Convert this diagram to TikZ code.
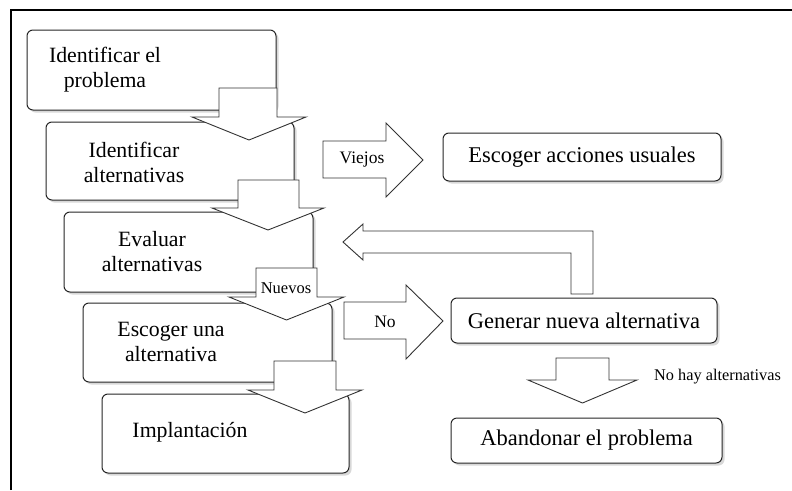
\documentclass[tikz,border=0pt]{standalone}
\usepackage{fontspec}
\setmainfont{Liberation Serif}
\newfontfamily\tnr{Liberation Serif}
\usetikzlibrary{shadows}
\begin{document}
\begin{tikzpicture}[x=1pt,y=-1pt,
  box/.style={draw=black!85, line width=1pt, rounded corners=6pt, fill=white,
    drop shadow={shadow xshift=2.5pt, shadow yshift=-2.5pt, fill=black!30},
    inner sep=0pt, align=center, font=\tnr\fontsize{22.5}{25}\selectfont},
  txt/.style={align=center, font=\tnr\fontsize{21.8}{25}\selectfont, inner sep=0pt},
  blk/.style={draw=black!80, line width=0.9pt, fill=white, line join=miter},
  small/.style={font=\tnr\fontsize{17.5}{19}\selectfont, inner sep=0pt},
  tiny/.style={font=\tnr\fontsize{16.3}{18}\selectfont, inner sep=0pt}]
\useasboundingbox (0,0) rectangle (792,490);
% frame
\draw[line width=1.6pt] (11,490) -- (11,10) -- (792,10);

% left column boxes
\node[box, minimum width=249pt, minimum height=80pt] (b1) at (151.5,70) {};
\node[txt] (t1) at (105,70) {Identificar el\\problema};
\node[box, minimum width=248pt, minimum height=78pt] (b2) at (170,161) {};
\node[txt] (t2) at (134,162) {Identificar\\alternativas};
\node[box, minimum width=249pt, minimum height=80pt] (b3) at (188.5,252) {};
\node[txt] (t3) at (152,251.5) {Evaluar\\alternativas};
\node[box, minimum width=249pt, minimum height=79pt] (b4) at (207.5,342.5) {};
\node[txt] (t4) at (171,341.5) {Escoger una\\alternativa};
\node[box, minimum width=247pt, minimum height=79pt] (b5) at (225.5,433.5) {};
\node[txt] (t5) at (190,432) {Implantación};

% right column boxes
\node[box, minimum width=278pt, minimum height=48pt] (b6) at (582,157) {Escoger acciones usuales};
\node[box, minimum width=266pt, minimum height=45pt] (b7) at (584,320.5) {Generar nueva alternativa};
\node[box, minimum width=271pt, minimum height=45pt] (b8) at (586.5,440.5) {Abandonar el problema};

% down block arrows (left column)
\draw[blk] (219,88) -- (277,88) -- (277,117) -- (306,117) -- (249,140) -- (192,117) -- (219,117) -- cycle;
\draw[blk] (238,180) -- (299,180) -- (299,208) -- (324,208) -- (268,230) -- (212,208) -- (238,208) -- cycle;
\draw[blk] (256,268) -- (317,268) -- (317,297) -- (344,297) -- (286.5,320) -- (229,297) -- (256,297) -- cycle;
\node[small, font=\tnr\fontsize{16.5}{19}\selectfont] (nuevos) at (286,288) {Nuevos};
\draw[blk] (274,361) -- (336,361) -- (336,390) -- (362,390) -- (305,413) -- (248,390) -- (274,390) -- cycle;

% right block arrows
\draw[blk] (323,141) -- (386,141) -- (386,123) -- (423,160) -- (386,197) -- (386,178) -- (323,178) -- cycle;
\node[small] (viejos) at (362,160) {Viejos};
\draw[blk] (344,302) -- (406,302) -- (406,285) -- (443,321) -- (406,359) -- (406,339) -- (344,339) -- cycle;
\node[small] (no) at (385,322) {No};

% return arrow
\draw[blk] (593,231) -- (363,231) -- (363,224) -- (343,242) -- (363,260) -- (363,253) -- (571,253) -- (571,294) -- (593,294) -- cycle;

% down arrow to Abandonar
\draw[blk] (556,358) -- (609,358) -- (609,380) -- (637,380) -- (582.5,403) -- (528,380) -- (556,380) -- cycle;
\node[tiny, anchor=west] (nohay) at (654,377) {No hay alternativas};
\end{tikzpicture}
\end{document}
